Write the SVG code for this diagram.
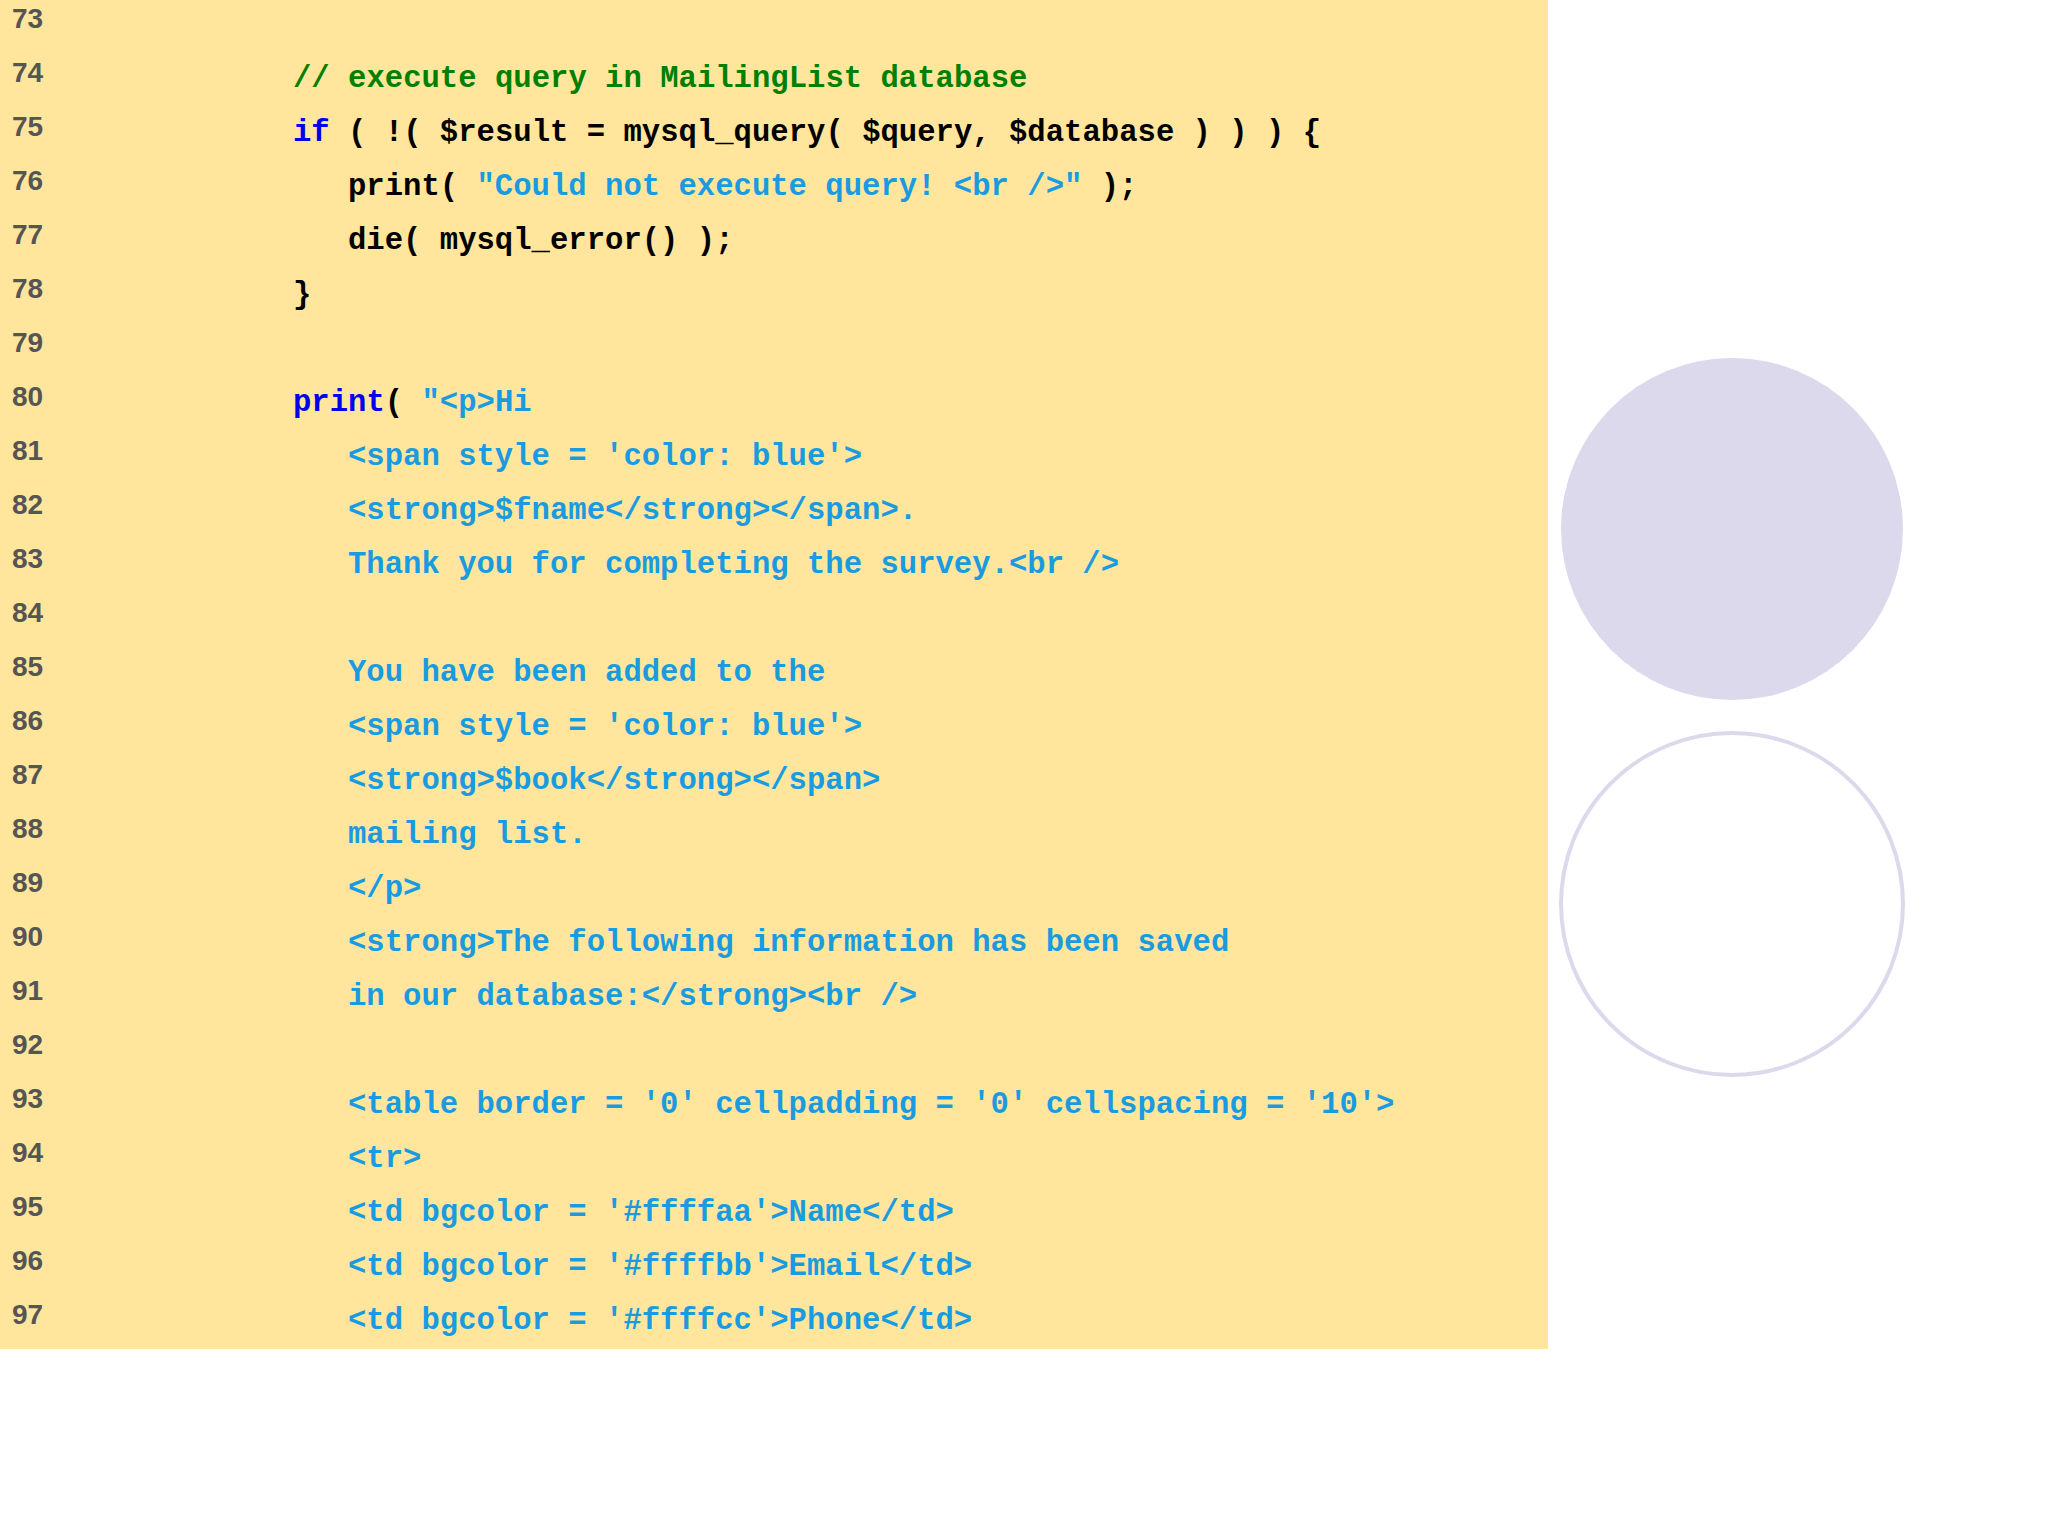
<svg xmlns="http://www.w3.org/2000/svg" width="2048" height="1536" viewBox="0 0 2048 1536">
<style>
.n{font-family:"Liberation Sans",Arial,sans-serif;font-weight:bold;font-size:28px;fill:#555}
.c{font-family:"Liberation Mono","Courier New",monospace;font-weight:bold;font-size:30.6px;fill:#000;white-space:pre}
.k{fill:#0000ee}.s{fill:#1a9be0}.g{fill:#008000}
</style>
<rect width="2048" height="1536" fill="#fff"/>
<rect x="0" y="0" width="1548" height="1349" fill="#ffe69c"/>
<g id="circles">
<circle cx="1732" cy="529" r="171" fill="#dcd9ec"/>
<circle cx="1732" cy="904" r="171" fill="none" stroke="#dcd9ec" stroke-width="4"/>
</g>
<g id="numbers" class="n">
<text x="12" y="28">73</text><text x="12" y="82">74</text><text x="12" y="136">75</text><text x="12" y="190">76</text><text x="12" y="244">77</text><text x="12" y="298">78</text><text x="12" y="352">79</text><text x="12" y="406">80</text><text x="12" y="460">81</text><text x="12" y="514">82</text><text x="12" y="568">83</text><text x="12" y="622">84</text><text x="12" y="676">85</text><text x="12" y="730">86</text><text x="12" y="784">87</text><text x="12" y="838">88</text><text x="12" y="892">89</text><text x="12" y="946">90</text><text x="12" y="1000">91</text><text x="12" y="1054">92</text><text x="12" y="1108">93</text><text x="12" y="1162">94</text><text x="12" y="1216">95</text><text x="12" y="1270">96</text><text x="12" y="1324">97</text>
</g>
<g id="code" class="c" xml:space="preserve">
<text x="293" y="87" class="c g">// execute query in MailingList database</text>
<text x="293" y="141"><tspan class="k">if</tspan> ( !( $result = mysql_query( $query, $database ) ) ) {</text>
<text x="348" y="195">print( <tspan class="s">"Could not execute query! &lt;br /&gt;"</tspan> );</text>
<text x="348" y="249">die( mysql_error() );</text>
<text x="293" y="303">}</text>
<text x="293" y="411"><tspan class="k">print</tspan>( <tspan class="s">"&lt;p&gt;Hi</tspan></text>
<text x="348" y="465" class="c s">&lt;span style = 'color: blue'&gt;</text>
<text x="348" y="519" class="c s">&lt;strong&gt;$fname&lt;/strong&gt;&lt;/span&gt;.</text>
<text x="348" y="573" class="c s">Thank you for completing the survey.&lt;br /&gt;</text>
<text x="348" y="681" class="c s">You have been added to the</text>
<text x="348" y="735" class="c s">&lt;span style = 'color: blue'&gt;</text>
<text x="348" y="789" class="c s">&lt;strong&gt;$book&lt;/strong&gt;&lt;/span&gt;</text>
<text x="348" y="843" class="c s">mailing list.</text>
<text x="348" y="897" class="c s">&lt;/p&gt;</text>
<text x="348" y="951" class="c s">&lt;strong&gt;The following information has been saved</text>
<text x="348" y="1005" class="c s">in our database:&lt;/strong&gt;&lt;br /&gt;</text>
<text x="348" y="1113" class="c s">&lt;table border = '0' cellpadding = '0' cellspacing = '10'&gt;</text>
<text x="348" y="1167" class="c s">&lt;tr&gt;</text>
<text x="348" y="1221" class="c s">&lt;td bgcolor = '#ffffaa'&gt;Name&lt;/td&gt;</text>
<text x="348" y="1275" class="c s">&lt;td bgcolor = '#ffffbb'&gt;Email&lt;/td&gt;</text>
<text x="348" y="1329" class="c s">&lt;td bgcolor = '#ffffcc'&gt;Phone&lt;/td&gt;</text>
</g>
</svg>
